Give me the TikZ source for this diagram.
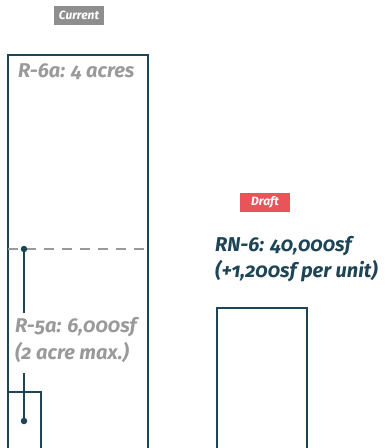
\documentclass[tikz,border=0pt]{standalone}
\usepackage{fontspec}
\setmainfont{Fira Sans}[Numbers=OldStyle]
\definecolor{teal}{HTML}{1D4556}
\definecolor{lgray}{HTML}{9A9A9A}
\definecolor{tagred}{HTML}{E8545A}
\definecolor{taggray}{HTML}{8E8E8E}
\tikzset{
  frame/.style={draw=teal, line width=1.4pt},
  tag/.style={inner sep=0pt, minimum height=19pt, text=white, font=\fontsize{12}{14}\selectfont\bfseries\itshape},
  gtext/.style={text=lgray, font=\fontsize{20}{27}\selectfont\bfseries\itshape, inner sep=0pt, anchor=west, align=left},
  ttext/.style={text=teal, font=\fontsize{20}{26.5}\selectfont\bfseries\itshape, inner sep=0pt, anchor=west, align=left},
  conn/.style={draw=teal, line width=1.4pt},
  dot/.style={circle, fill=teal, inner sep=0pt, minimum size=6.5pt},
}
\begin{document}
\begin{tikzpicture}[x=1pt, y=-1pt]
\useasboundingbox (0,0) rectangle (385,448);
% tags
\node[tag, fill=taggray, minimum width=50pt] (cur) at (79,15.5) {Current};
\node[tag, fill=tagred, minimum width=50pt] (draft) at (265,202.5) {Draft};
% current big frame
\draw[frame] (8,455) -- (8,55) -- (148,55) -- (148,455);
\node[gtext] (r6a) at (18,72) {R-6a: 4 acres};
% dashed line
\draw[draw=lgray, line width=2.2pt, dash pattern=on 10pt off 8pt] (8,249) -- (148,249);
% small frame
\draw[frame] (8,392) -- (41,392) -- (41,455);
% R-5a label
\node[gtext] (r5a) at (15,340) {R-5a: 6,000sf\\(2 acre max.)};
\node[dot] (d1) at (24,249) {};
\node[dot] (d2) at (24,421) {};
\coordinate (e1) at (24,313);
\coordinate (e2) at (24,373);
\draw[conn] (d1.center) -- (e1);
\draw[conn] (e2) -- (d2.center);
% RN-6
\node[ttext] (rn6) at (215,259) {RN-6: 40,000sf\\(+1,200sf per unit)};
\draw[frame] (217,455) -- (217,308) -- (307,308) -- (307,455);
\end{tikzpicture}
\end{document}
